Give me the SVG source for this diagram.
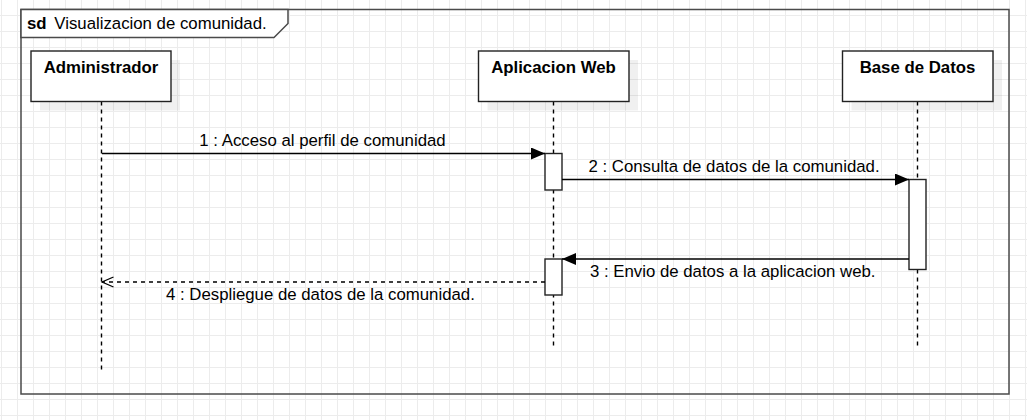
<svg xmlns="http://www.w3.org/2000/svg" width="1027" height="420" viewBox="0 0 1027 420">
  <defs>
    <pattern id="grid" width="16" height="16" patternUnits="userSpaceOnUse">
      <path d="M1.5 0V16M0 15.5H16" stroke="#ececec" stroke-width="1" fill="none"/>
    </pattern>
    <marker id="filled" viewBox="0 0 14 12" refX="14" refY="6" markerWidth="14" markerHeight="12" markerUnits="userSpaceOnUse" orient="auto">
      <path d="M0,0 L14,6 L0,12 z" fill="#000"/>
    </marker>
    <marker id="open" viewBox="-1 -1 14 14" refX="11.5" refY="6" markerWidth="14" markerHeight="14" markerUnits="userSpaceOnUse" orient="auto">
      <path d="M0,1 L11.5,6 L0,11" fill="none" stroke="#000" stroke-width="1.3"/>
    </marker>
  </defs>
  <style>
    .lbl { font-family: "Liberation Sans", Arial, sans-serif; font-size: 16.8px; fill: #000; }
    .bold { font-weight: bold; }
    .box { fill: #fff; stroke: #222; stroke-width: 1.4; }
    .shadow { fill: #000; opacity: 0.06; }
    .life { stroke: #000; stroke-width: 1.4; stroke-dasharray: 4 4; fill: none; }
    .act { fill: #fff; stroke: #222; stroke-width: 1.4; }
    .msg { stroke: #000; stroke-width: 1.4; fill: none; }
  </style>
  <rect width="1027" height="420" fill="#fff"/>
  <rect width="1027" height="420" fill="url(#grid)"/>

  <g id="frame">
    <rect x="21" y="9.5" width="988" height="384.5" fill="none" stroke="#4a4a4a" stroke-width="1.5"/>
    <path d="M21 9.5 H288 V23.5 L274 37.5 H21 Z" fill="#fff" stroke="#4a4a4a" stroke-width="1.5"/>
    <text class="lbl bold" x="27" y="28.5">sd</text>
    <text class="lbl" x="54.3" y="28.5">Visualizacion de comunidad.</text>
  </g>

  <g id="administrador">
    <rect class="shadow" x="40" y="60" width="140" height="50.5"/>
    <line class="life" x1="101.5" y1="101.5" x2="101.5" y2="371"/>
    <rect class="box" x="31" y="51" width="140" height="50.5"/>
    <text class="lbl bold" x="101" y="73" text-anchor="middle">Administrador</text>
  </g>

  <g id="aplicacion-web">
    <rect class="shadow" x="487.5" y="60" width="150.5" height="50.5"/>
    <line class="life" x1="553.5" y1="101.5" x2="553.5" y2="349"/>
    <rect class="box" x="478.5" y="51" width="150.5" height="50.5"/>
    <text class="lbl bold" x="553.5" y="73" text-anchor="middle">Aplicacion Web</text>
    <rect class="act" x="545" y="153.5" width="17" height="36.5"/>
    <rect class="act" x="545" y="259" width="17" height="36"/>
  </g>

  <g id="base-de-datos">
    <rect class="shadow" x="851.5" y="60" width="150.5" height="50.5"/>
    <line class="life" x1="917.5" y1="101.5" x2="917.5" y2="349"/>
    <rect class="box" x="842.5" y="51" width="150.5" height="50.5"/>
    <text class="lbl bold" x="917.5" y="73" text-anchor="middle">Base de Datos</text>
    <rect class="act" x="909" y="179.5" width="17" height="90"/>
  </g>

  <g id="connectors">
    <line class="msg" x1="102" y1="153.5" x2="545" y2="153.5" marker-end="url(#filled)"/>
    <text class="lbl" x="322.5" y="145.5" text-anchor="middle">1 : Acceso al perfil de comunidad</text>

    <line class="msg" x1="562" y1="179.5" x2="909" y2="179.5" marker-end="url(#filled)"/>
    <text class="lbl" x="588.5" y="171.5">2 : Consulta de datos de la comunidad.</text>

    <line class="msg" x1="909" y1="259" x2="562" y2="259" marker-end="url(#filled)"/>
    <text class="lbl" x="590" y="277">3 : Envio de datos a la aplicacion web.</text>

    <line class="msg" x1="545" y1="282" x2="102" y2="282" stroke-dasharray="4 4" marker-end="url(#open)"/>
    <text class="lbl" x="166" y="300">4 : Despliegue de datos de la comunidad.</text>
  </g>
</svg>
